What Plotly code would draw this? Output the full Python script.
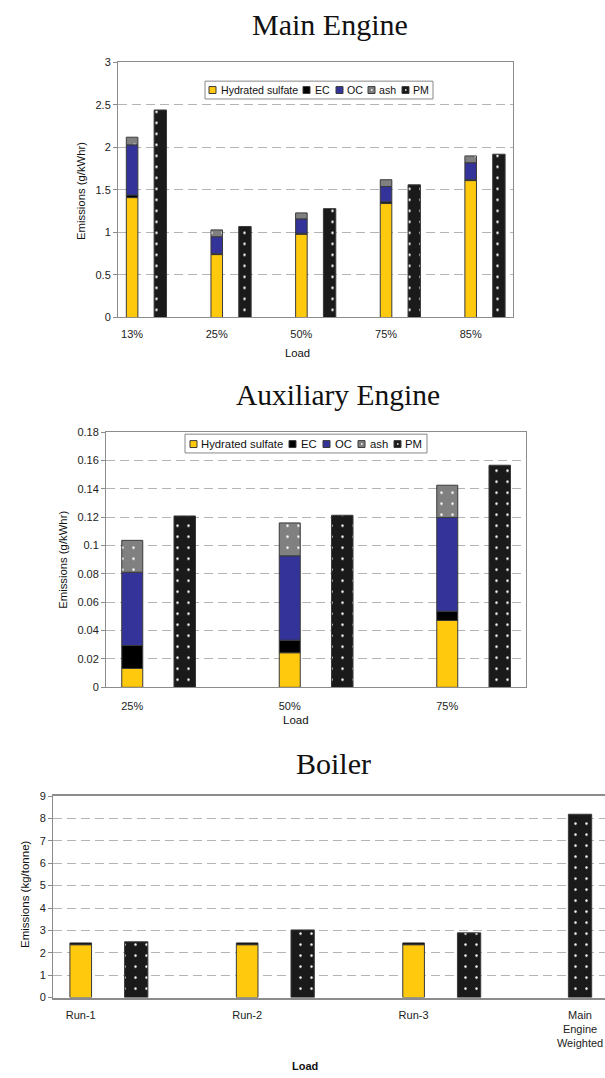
import plotly.graph_objects as go

W, H = 605, 1078

# ---------------- data ----------------
me_loads = ["13%", "25%", "50%", "75%", "85%"]
me_sulfate = [1.41, 0.74, 0.98, 1.34, 1.61]
me_ec = [0.03, 0.01, 0.01, 0.02, 0.01]
me_oc = [0.59, 0.20, 0.17, 0.18, 0.20]
me_ash = [0.09, 0.08, 0.07, 0.08, 0.08]
me_pm = [2.44, 1.07, 1.28, 1.56, 1.92]

aux_loads = ["25%", "50%", "75%"]
aux_sulfate = [0.0133, 0.0244, 0.0472]
aux_ec = [0.0162, 0.0089, 0.0065]
aux_oc = [0.0517, 0.0595, 0.0661]
aux_ash = [0.0225, 0.0232, 0.0228]
aux_pm = [0.1209, 0.1214, 0.1567]

boiler_runs = ["Run-1", "Run-2", "Run-3", "Main<br>Engine<br>Weighted"]
boiler_sulfate = [2.36, 2.36, 2.36]
boiler_ec = [0.08, 0.08, 0.08]
boiler_pm = [2.49, 3.02, 2.89, 8.19]

legend_labels = ["Hydrated sulfate", "EC", "OC", "ash", "PM"]

# ---------------- style ----------------
C_SULF = "#FFC90E"
C_EC = "#000000"
C_OC = "#333399"
C_ASH = "#808080"
C_PM = "#1a1a1a"
OUT = "#3a3a3a"
AXC = "#8c8c8c"
GRID = "#b4b4b4"
FONT = "Liberation Sans, Arial, sans-serif"
SERIF = "Liberation Serif, Times New Roman, serif"


def px(x):
    return x / W


def py(y):
    return 1 - y / H


def dots(bg):
    return dict(shape=".", fgcolor="white", bgcolor=bg, size=11,
                solidity=0.04, fillmode="replace")


fig = go.Figure()


def add_bar(xs, ys, color, n, width, pattern=None):
    ax = "" if n == 1 else str(n)
    marker = dict(color=color, line=dict(color=OUT, width=1))
    if pattern:
        marker["pattern"] = pattern
    fig.add_trace(go.Bar(x=xs, y=ys, width=width, marker=marker,
                         xaxis="x" + ax, yaxis="y" + ax, showlegend=False,
                         hoverinfo="x+y"))


# Main engine: stacked at 3*i, PM at 3*i+1
me_sx = [3 * i for i in range(len(me_loads))]
me_px = [3 * i + 1 for i in range(len(me_loads))]
for vals, col, pat in [(me_sulfate, C_SULF, None), (me_ec, C_EC, None),
                       (me_oc, C_OC, None), (me_ash, C_ASH, dots(C_ASH))]:
    add_bar(me_sx, vals, col, 1, 0.41, pat)
add_bar(me_px, me_pm, C_PM, 1, 0.44, dots(C_PM))

# Auxiliary engine
aux_sx = [3 * i for i in range(len(aux_loads))]
aux_px = [3 * i + 1 for i in range(len(aux_loads))]
for vals, col, pat in [(aux_sulfate, C_SULF, None), (aux_ec, C_EC, None),
                       (aux_oc, C_OC, None), (aux_ash, C_ASH, dots(C_ASH))]:
    add_bar(aux_sx, vals, col, 2, 0.40, pat)
add_bar(aux_px, aux_pm, C_PM, 2, 0.41, dots(C_PM))

# Boiler
b_sx = [3 * i for i in range(len(boiler_sulfate))]
b_px = [3 * i + 1 for i in range(len(boiler_sulfate))] + [3 * len(boiler_sulfate)]
add_bar(b_sx, boiler_sulfate, C_SULF, 3, 0.39)
add_bar(b_sx, boiler_ec, C_EC, 3, 0.39)
add_bar(b_px, boiler_pm, C_PM, 3, 0.42, dots(C_PM))

tickfont = dict(family=FONT, size=11, color="#222")


def xax(anchor, dom, rng, tv, tt, mirror=True):
    return dict(anchor=anchor, domain=dom, range=rng, tickvals=tv, ticktext=tt,
                showgrid=False, zeroline=False, showline=True, linecolor=AXC,
                linewidth=1, mirror=mirror, ticks="", tickfont=tickfont,
                ticklabelstandoff=6, fixedrange=True)


def yax(anchor, dom, rng, dt, mirror=True):
    return dict(anchor=anchor, domain=dom, range=rng, dtick=dt, showgrid=True,
                gridcolor=GRID, gridwidth=1, griddash="9px,5px", zeroline=False,
                showline=True, linecolor=AXC, linewidth=1, mirror=mirror,
                ticks="outside", ticklen=4, tickcolor=AXC, tickfont=tickfont,
                fixedrange=True)


layout = dict(
    width=W, height=H, margin=dict(l=0, r=0, t=0, b=0),
    paper_bgcolor="white", plot_bgcolor="white", barmode="relative",
    showlegend=False, font=dict(family=FONT, size=11, color="#222"),
    xaxis=xax("y", [px(118), px(513)], [-0.5, 13.5], me_sx, me_loads),
    yaxis=yax("x", [py(315), py(57)], [0, 3], 0.5),
    xaxis2=xax("y2", [px(106), px(526)], [-0.5, 7.5], aux_sx, aux_loads),
    yaxis2=yax("x2", [py(689), py(431)], [0, 0.18], 0.02),
    xaxis3=xax("y3", [px(53), 1.0], [-0.5, 9.45], b_sx + [b_px[-1]], boiler_runs),
    yaxis3=yax("x3", [py(1002.7), py(799)], [0, 9], 1, mirror=False),
)
layout["xaxis3"]["linewidth"] = 2
layout["xaxis2"]["ticklabelstandoff"] = 8
fig.update_layout(**layout)

ann = []
shapes = []


def text(x, y, t, size=11, angle=0, xanchor="center", family=FONT, bold=False):
    if bold:
        t = "<b>" + t + "</b>"
    ann.append(dict(x=px(x), y=py(y), xref="paper", yref="paper", text=t,
                    showarrow=False, xanchor=xanchor, yanchor="middle",
                    textangle=angle, font=dict(family=family, size=size, color="#111")))


# titles
text(330, 19, "Main Engine", size=30, family=SERIF)
text(338, 393, "Auxiliary Engine", size=29.5, family=SERIF)
text(333, 766, "Boiler", size=30, family=SERIF)

# axis titles
text(81, 187, "Emissions (g/kWhr)", angle=-90, size=11.3)
text(297, 351, "Load", size=11.3)
text(63, 560, "Emissions (g/kWhr)", angle=-90, size=11.3)
text(296, 722, "Load", size=11.5)
text(25, 898, "Emissions (kg/tonne)", angle=-90, size=11.5)
text(305, 1072, "Load", size=11, bold=True)

# legends (drawn)
leg_colors = [C_SULF, C_EC, C_OC, C_ASH, C_PM]


def legend(box, sq_x, tx_x, yc, size):
    x0, y0, x1, y1 = box
    shapes.append(dict(type="rect", xref="paper", yref="paper", x0=px(x0), x1=px(x1),
                       y0=py(y1), y1=py(y0), line=dict(color="#888", width=1),
                       fillcolor="white", layer="above"))
    for lab, c, sx, tx in zip(legend_labels, leg_colors, sq_x, tx_x):
        shapes.append(dict(type="rect", xref="paper", yref="paper", x0=px(sx),
                           x1=px(sx + 7), y0=py(yc + 3.5), y1=py(yc - 3.5),
                           line=dict(color=OUT, width=1), fillcolor=c, layer="above"))
        if lab in ("ash", "PM"):
            shapes.append(dict(type="rect", xref="paper", yref="paper",
                               x0=px(sx + 3), x1=px(sx + 4.5), y0=py(yc + 0.7),
                               y1=py(yc - 0.8), line=dict(width=0),
                               fillcolor="white", layer="above"))
        text(tx, yc, lab, size=size, xanchor="left")


legend((205, 76, 433, 94), [209, 303, 336, 368, 402], [219, 313, 345, 377, 411], 85, 10.6)
legend((185, 433, 427, 452), [190, 289, 323, 358, 394], [199, 299, 333, 368, 403], 443, 11.3)

fig.update_layout(annotations=ann, shapes=shapes)
fig.write_html("out.html", config={"displayModeBar": False, "staticPlot": True},
               post_script="document.body.style.margin='0px';"
                           "document.body.style.overflow='hidden';")
